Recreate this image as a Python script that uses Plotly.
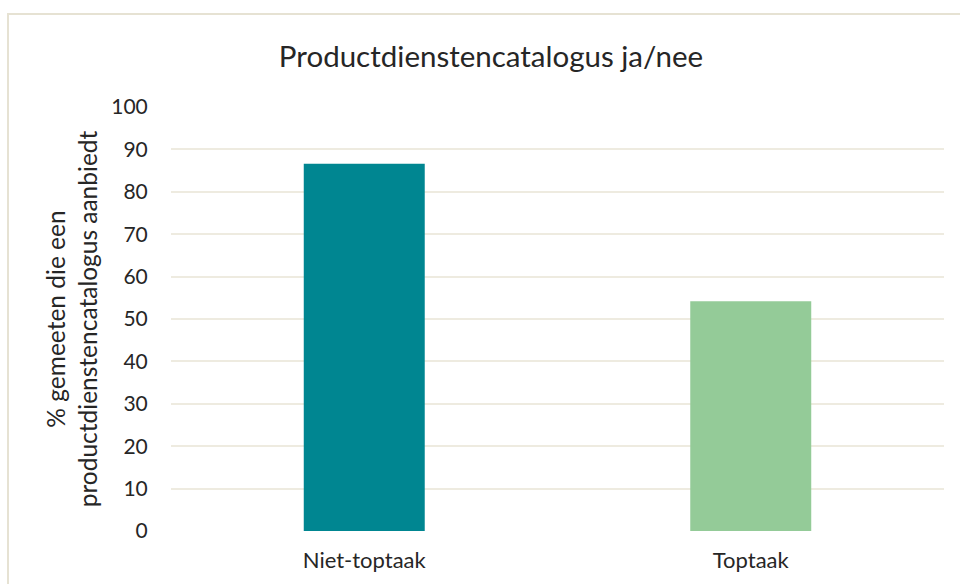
import plotly.graph_objects as go

# data
categories = ['Niet-toptaak', 'Toptaak']
values = [86.6, 54.2]
bar_colors = ['#008691', '#94CB98']
y_ticks = [0, 10, 20, 30, 40, 50, 60, 70, 80, 90, 100]

W, H = 960, 584
ml, mr, mt, mb = 171, 16, 107, 53
pw = W - ml - mr
ph = H - mt - mb

fig = go.Figure(go.Bar(x=categories, y=values, marker_color=bar_colors,
                       marker_line_width=0, hoverinfo='x+y'))

fig.update_layout(
    width=W, height=H,
    margin=dict(l=ml, r=mr, t=mt, b=mb),
    paper_bgcolor='white', plot_bgcolor='white',
    font=dict(family='Lato, Open Sans, sans-serif', color='#262626'),
    title=dict(text='Productdienstencatalogus ja/nee', x=491 / W, xanchor='center',
               y=1 - 57 / H, yanchor='middle', font=dict(size=29.5, color='#262626')),
    bargap=0.687,
    showlegend=False,
)

fig.update_xaxes(showgrid=False, zeroline=False, showline=False,
                 tickfont=dict(size=22), ticks='outside', ticklen=10,
                 tickcolor='rgba(0,0,0,0)')
fig.update_yaxes(range=[0, 100], tickvals=y_ticks, showgrid=True,
                 gridcolor='#EEEBE0', gridwidth=1.5, zeroline=False,
                 showline=False, tickfont=dict(size=21), ticklen=18, ticks='outside',
                 tickcolor='rgba(0,0,0,0)',
                 title=dict(text='% gemeeten die een<br>productdienstencatalogus aanbiedt',
                            font=dict(size=24.5), standoff=6))

# chart frame
fig.add_shape(type='rect', xref='paper', yref='paper',
              x0=(8 - ml) / pw, x1=(W + 5 - ml) / pw,
              y0=-(H + 5 - mt - ph) / ph, y1=(H - 14 - mb) / ph,
              line=dict(color='#E6E2D3', width=2), layer='below')

# drop the default page margin so the figure sits at the window corner
fig.write_html('out.html', config={'displayModeBar': False},
               post_script="document.body.style.margin='0';")
